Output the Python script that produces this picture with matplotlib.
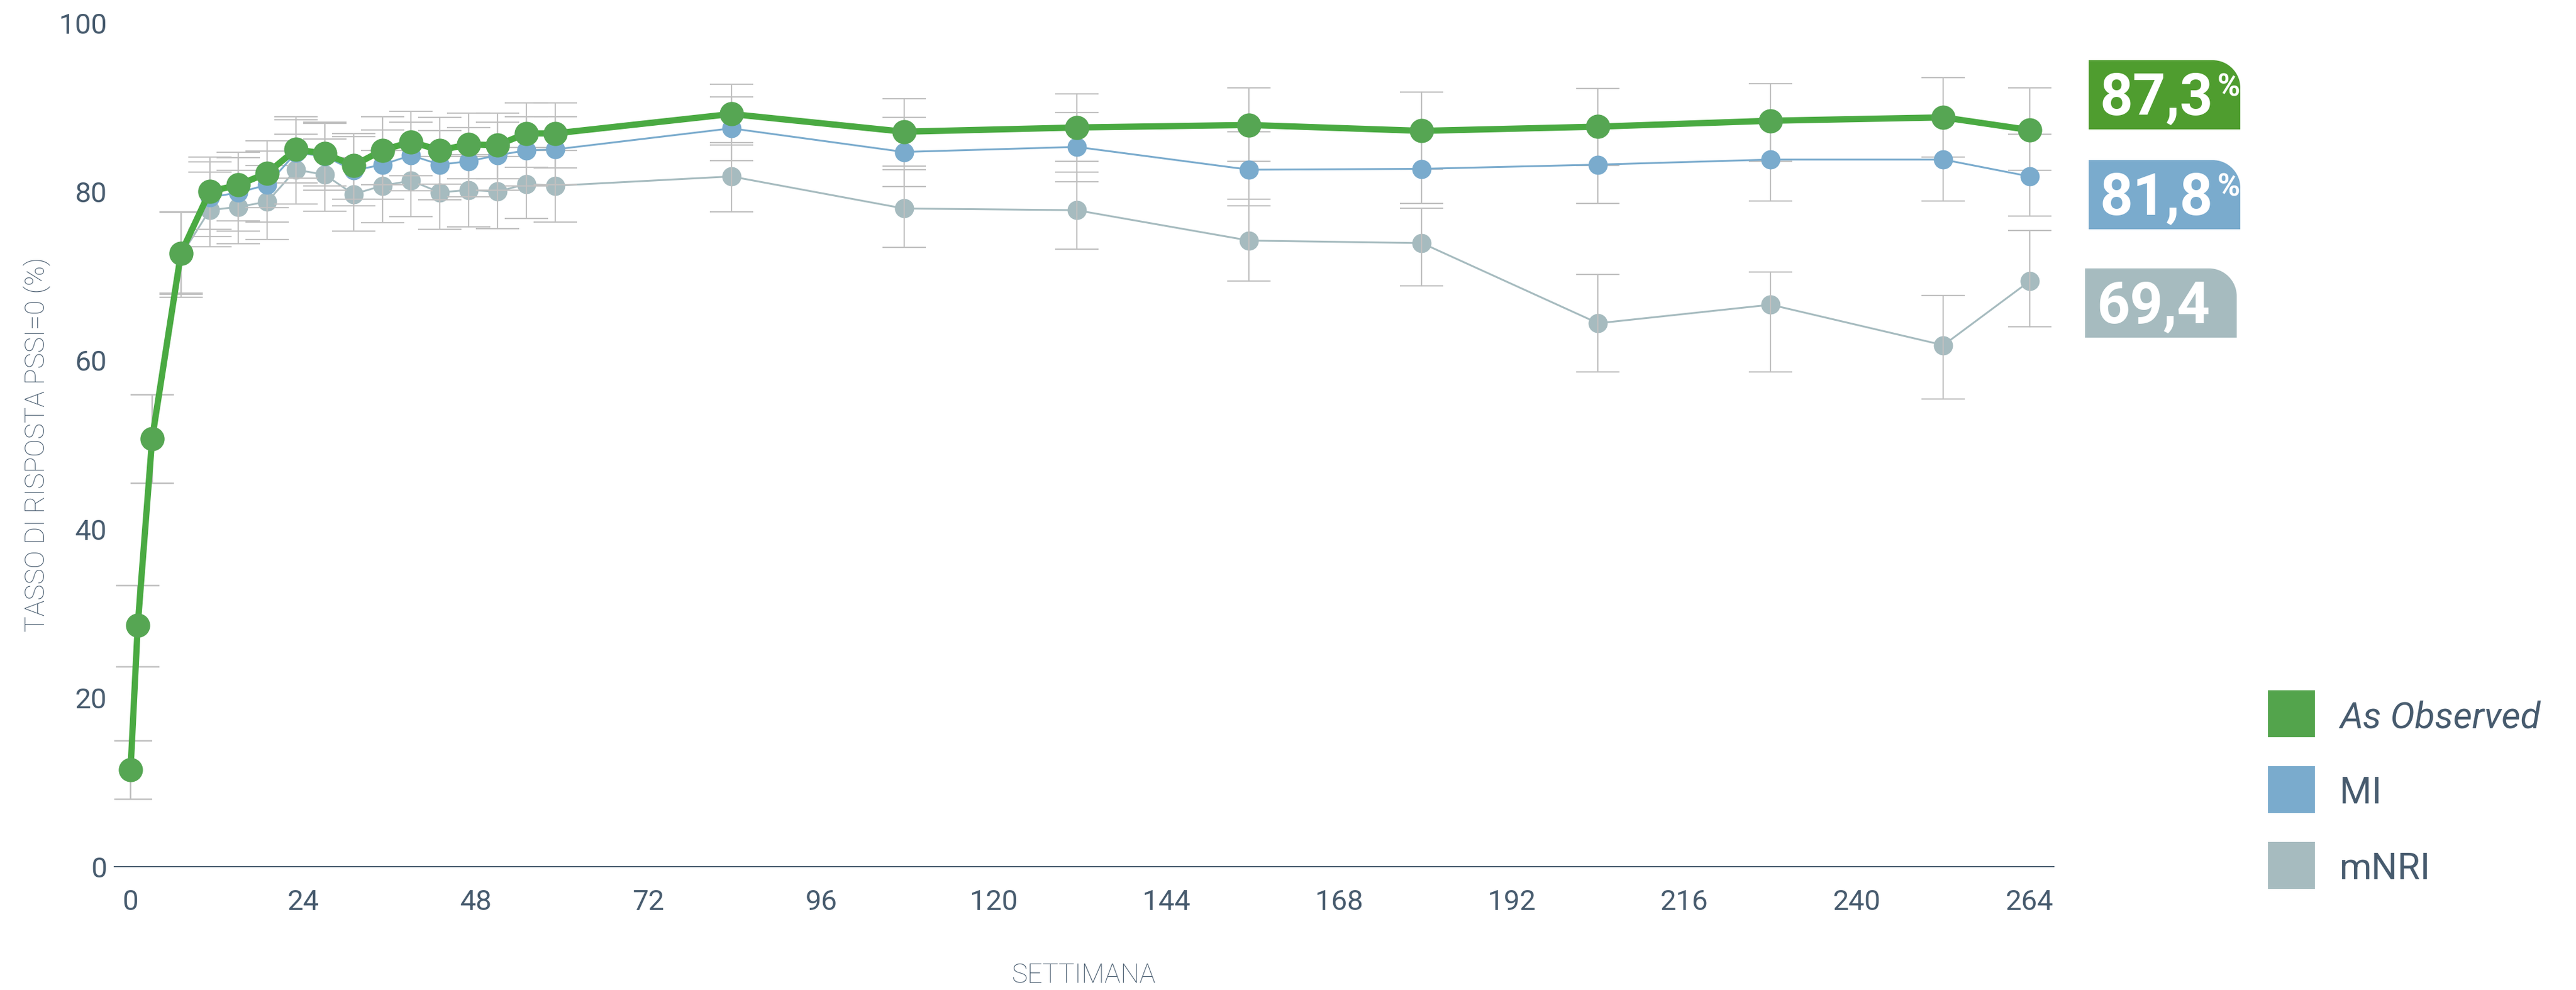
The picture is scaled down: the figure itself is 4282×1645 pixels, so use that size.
import matplotlib
matplotlib.use("Agg")
import matplotlib.pyplot as plt
from matplotlib.path import Path
from matplotlib.patches import PathPatch, Rectangle
from matplotlib.transforms import Affine2D

# --- data -------------------------------------------------------------
weeks = [0, 1, 3, 7, 11, 15, 19, 23, 27, 31, 35, 39, 43, 47, 51, 55, 59,
         83.5, 107.5, 131.5, 155.5, 179.5, 204, 228, 252, 264]

as_observed = [11.5, 28.6, 50.7, 72.7, 80.0, 80.8, 82.2, 85.0, 84.5, 83.1, 84.9, 85.9, 84.9,
               85.6, 85.5, 86.9, 86.9, 89.2, 87.1, 87.6, 87.9, 87.2, 87.7, 88.4, 88.8, 87.3]
ao_lo = [3.5, 4.9, 5.3, 4.7, 4.5, 4.3, 4.1, 3.4, 3.8, 4.0, 4.1, 4.0, 4.0, 4.1, 4.0, 4.0, 4.1,
         3.4, 4.1, 4.0, 4.3, 4.5, 4.6, 4.8, 4.7, 4.8]
ao_hi = [3.4, 4.7, 5.2, 4.9, 4.1, 3.9, 3.8, 3.9, 3.7, 3.8, 4.0, 3.6, 3.9, 3.7, 3.8, 3.6, 3.6,
         3.5, 3.9, 4.0, 4.4, 4.6, 4.5, 4.4, 4.7, 5.0]

mi = [11.5, 28.6, 50.7, 72.6, 79.3, 79.9, 80.8, 84.6, 84.2, 82.5, 83.2, 84.3, 83.2,
      83.6, 84.3, 84.9, 85.0, 87.5, 84.7, 85.3, 82.6, 82.7, 83.2, 83.8, 83.8, 81.8]
mi_lo = [3.5, 4.9, 5.3, 4.8, 4.6, 4.6, 4.4, 3.6, 4.0, 4.2, 4.1, 4.2, 4.2, 4.2, 4.1, 4.2, 4.2,
         3.8, 4.1, 4.1, 4.3, 4.1, 4.6, 4.9, 4.9, 4.7]
mi_hi = [3.4, 4.7, 5.2, 5.0, 4.2, 4.1, 4.0, 3.9, 3.9, 4.0, 4.1, 3.9, 4.0, 4.0, 3.9, 4.0, 3.9,
         3.7, 4.1, 4.1, 4.5, 4.5, 4.6, 4.8, 4.8, 5.0]

mnri = [11.5, 28.6, 50.7, 72.4, 77.8, 78.2, 78.8, 82.6, 82.0, 79.7, 80.7, 81.3, 79.9,
        80.2, 80.0, 80.9, 80.7, 81.8, 78.0, 77.8, 74.2, 73.9, 64.4, 66.6, 61.8, 69.4]
mnri_lo = [3.5, 4.9, 5.3, 4.9, 4.3, 4.4, 4.5, 4.1, 4.3, 4.4, 4.4, 4.3, 4.4, 4.4, 4.4, 4.1, 4.3,
           4.2, 4.6, 4.6, 4.8, 5.1, 5.8, 8.0, 6.4, 5.4]
mnri_hi = [3.4, 4.7, 5.2, 5.1, 4.5, 4.3, 4.3, 4.2, 4.2, 4.3, 4.2, 4.2, 4.3, 4.2, 4.2, 4.3, 4.2,
           3.7, 4.6, 4.5, 4.9, 4.1, 5.8, 3.9, 5.9, 6.0]

series_names = ["As Observed", "MI", "mNRI"]
x_ticks = [0, 24, 48, 72, 96, 120, 144, 168, 192, 216, 240, 264]
y_ticks = [0, 20, 40, 60, 80, 100]

# --- style ------------------------------------------------------------
W, H = 4282, 1645
TXT = "#475b6e"
GREEN_LINE = "#4aaa42"
GREEN_DOT = "#56a653"
GREEN_BOX = "#4f9d2f"
BLUE = "#7aabcd"
GREY = "#a6bbbf"
ERR = "#c0c0c0"

plt.rcParams["font.family"] = ["Roboto", "DejaVu Sans"]

fig = plt.figure(figsize=(W / 100, H / 100), dpi=100)
ax = fig.add_axes([190 / W, 1 - 1440 / H, (3414 - 190) / W, (1440 - 38) / H])

# pixel coordinates measured from the top-left corner of the figure
px = Affine2D().scale(1 / W, -1 / H).translate(0, 1) + fig.transFigure

err_kw = dict(fmt="none", ecolor=ERR, elinewidth=1.6, capsize=26, capthick=1.6)

ax.plot(weeks, mnri, color=GREY, lw=2.2, marker="o", ms=23, mec="none", zorder=2, clip_on=False)
ax.errorbar(weeks, mnri, yerr=[mnri_lo, mnri_hi], zorder=3, **err_kw)
ax.errorbar(weeks, mi, yerr=[mi_lo, mi_hi], zorder=3, **err_kw)
ax.errorbar(weeks, as_observed, yerr=[ao_lo, ao_hi], zorder=3, **err_kw)
ax.plot(weeks, mi, color=BLUE, lw=2.2, marker="o", ms=23, mec="none", zorder=4, clip_on=False)
ax.plot(weeks, as_observed, color=GREEN_LINE, lw=7.5, zorder=5, clip_on=False)
ax.plot(weeks, as_observed, ls="none", marker="o", ms=29, color=GREEN_DOT, mec="none",
        zorder=6, clip_on=False)

ax.set_xlim(-2.26, 267.35)
ax.set_ylim(0, 100)
ax.set_xticks(x_ticks)
ax.set_yticks(y_ticks)
ax.tick_params(axis="both", length=0, labelsize=34, labelcolor=TXT)
ax.tick_params(axis="x", pad=27)
ax.tick_params(axis="y", pad=9)
for side in ["top", "right", "left"]:
    ax.spines[side].set_visible(False)
ax.spines["bottom"].set_color(TXT)
ax.spines["bottom"].set_linewidth(1.4)

ax.set_xlabel("SETTIMANA", fontsize=32, fontweight="light", color=TXT, va="center")
ax.xaxis.set_label_coords(0.5, (1440 - 1621) / (1440 - 38))
ax.set_ylabel("TASSO DI RISPOSTA PSSI=0 (%)", fontsize=32, fontweight="light", color=TXT,
              va="center", ha="center")
ax.yaxis.set_label_coords((61 - 190) / (3414 - 190), 0.5)


def tab_box(x0, y0, w, h, r, color):
    # rectangle with only the top-right corner rounded (pixel coords, y down)
    k = 0.5523 * r
    x1, y1 = x0 + w, y0 + h
    verts = [(x0, y1), (x0, y0), (x1 - r, y0),
             (x1 - r + k, y0), (x1, y0 + r - k), (x1, y0 + r),
             (x1, y1), (x0, y1)]
    codes = [Path.MOVETO, Path.LINETO, Path.LINETO,
             Path.CURVE4, Path.CURVE4, Path.CURVE4,
             Path.LINETO, Path.CLOSEPOLY]
    fig.patches.append(PathPatch(Path(verts, codes), transform=px, facecolor=color,
                                 edgecolor="none"))


renderer = fig.canvas.get_renderer()
end_labels = [
    (as_observed[-1], GREEN_BOX, 3472, 100, True),
    (mi[-1], BLUE, 3472, 266, True),
    (mnri[-1], GREY, 3466, 446, False),
]
for value, color, bx, by, pct in end_labels:
    tab_box(bx, by, 252, 115, 46, color)
    label = f"{value:.1f}".replace(".", ",")
    t = fig.text(bx + 19, by + 90, label, transform=px, color="white", fontsize=69,
                 fontweight="bold", ha="left", va="baseline")
    if pct:
        bb = t.get_window_extent(renderer)
        fig.text(bb.x1 + 6, H - (by + 21), "%", transform=None, color="white",
                 fontsize=37, fontweight="bold", ha="left", va="top")

# legend
legend_colors = ["#53a44c", BLUE, GREY]
for i, (name, color) in enumerate(zip(series_names, legend_colors)):
    cy = 1186 + i * 126
    fig.patches.append(Rectangle((3770, cy - 39), 78, 78, transform=px, facecolor=color,
                                 edgecolor="none"))
    fig.text(3889, cy + 23, name, transform=px, fontsize=44, color=TXT, ha="left",
             va="baseline", fontstyle="italic" if i == 0 else "normal")

fig.savefig("out.png", dpi=100)
